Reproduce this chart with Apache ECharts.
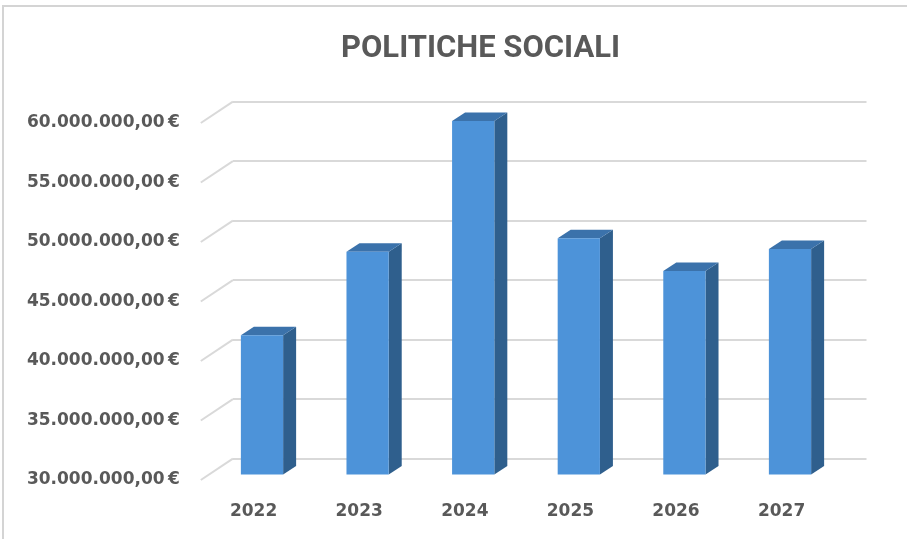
<!DOCTYPE html>
<html>
<head>
<meta charset="utf-8">
<script src="https://cdn.jsdelivr.net/npm/echarts@6/dist/echarts.min.js"></script>
<style>
  html, body { margin: 0; padding: 0; background: #ffffff; }
  #chart { width: 907px; height: 539px; }
</style>
</head>
<body>
<div id="chart"></div>
<script>
// Spesa annuale per le politiche sociali (euro)
const years = ['2022', '2023', '2024', '2025', '2026', '2027'];
const spending = [41700000, 48700000, 59700000, 49850000, 47100000, 48950000];

// Value axis range and tick step
const Y_MIN = 30000000;
const Y_MAX = 60000000;
const Y_STEP = 5000000;
const yTicks = [30000000, 35000000, 40000000, 45000000, 50000000, 55000000, 60000000];

// Layout of the pseudo-3D box: the bars stand on a middle plane,
// gridlines sit on the back wall, labels on the front edge.
const PLOT_W = 633.6;
const PLOT_H = 357;
const PLANE = { left: 209.2, top: 117.4 };
const BACK = { dx: 23.7, dy: -15.8 };
const FRONT = { dx: -8.4, dy: 5.6 };
const BAR_RATIO = 0.4;
const BAR_DEPTH = { dx: 13, dy: 8.5 };

const COLORS = {
  front: '#4d93d9',
  side: '#2f5f8d',
  top: '#3b72ab',
  grid: '#d9d9d9',
  text: '#595959'
};

function euro(v) {
  const intPart = Math.round(v).toString().replace(/\B(?=(\d{3})+(?!\d))/g, '.');
  return intPart + ',00\u202F€';
}

function gridAt(dx, dy) {
  return { left: PLANE.left + dx, top: PLANE.top + dy, width: PLOT_W, height: PLOT_H, containLabel: false };
}

function valueAxis(gridIndex, extra) {
  return Object.assign({
    type: 'value', gridIndex: gridIndex, min: Y_MIN, max: Y_MAX, interval: Y_STEP,
    axisLine: { show: false }, axisTick: { show: false },
    axisLabel: { show: false }, splitLine: { show: false }
  }, extra || {});
}

function categoryAxis(gridIndex, extra) {
  return Object.assign({
    type: 'category', gridIndex: gridIndex, data: years,
    axisLine: { show: false }, axisTick: { show: false },
    axisLabel: { show: false }, splitLine: { show: false }
  }, extra || {});
}

function renderBar(params, api) {
  const i = api.value(0);
  const v = api.value(1);
  const base = api.coord([i, Y_MIN]);
  const top = api.coord([i, v]);
  const w = api.size([1, 0])[0] * BAR_RATIO;
  const x0 = base[0] - w / 2;
  const x1 = base[0] + w / 2;
  const yB = base[1];
  const yT = top[1];
  const dx = BAR_DEPTH.dx, dy = BAR_DEPTH.dy;
  return {
    type: 'group',
    children: [
      { type: 'polygon', shape: { points: [[x1, yT], [x1 + dx, yT - dy], [x1 + dx, yB - dy], [x1, yB]] },
        style: { fill: COLORS.side } },
      { type: 'polygon', shape: { points: [[x0, yT], [x0 + dx, yT - dy], [x1 + dx, yT - dy], [x1, yT]] },
        style: { fill: COLORS.top } },
      { type: 'rect', shape: { x: x0, y: yT, width: w, height: yB - yT },
        style: { fill: COLORS.front } }
    ]
  };
}

// Slanted segments joining each back-wall gridline to the front edge
function renderWallLine(params, api) {
  const p = api.coord([0, api.value(1)]);
  const xl = p[0] - api.size([1, 0])[0] / 2;
  const ddx = BACK.dx - FRONT.dx;
  const ddy = FRONT.dy - BACK.dy;
  return {
    type: 'line',
    shape: { x1: xl, y1: p[1], x2: xl - ddx, y2: p[1] + ddy },
    style: { stroke: COLORS.grid, lineWidth: 2 }
  };
}

const chart = echarts.init(document.getElementById('chart'), null, { renderer: 'canvas' });

chart.setOption({
  backgroundColor: '#ffffff',
  animation: false,
  title: {
    text: 'POLITICHE SOCIALI',
    left: 336,
    top: 29,
    textStyle: { fontFamily: 'Roboto', fontWeight: 'bold', fontSize: 31, color: COLORS.text }
  },
  graphic: [
    { type: 'polyline', shape: { points: [[3, 545], [3, 6], [912, 6]] },
      style: { stroke: '#d4d4d4', lineWidth: 2, fill: null }, silent: true }
  ],
  grid: [
    gridAt(BACK.dx, BACK.dy),
    gridAt(0, 0),
    gridAt(FRONT.dx, FRONT.dy)
  ],
  xAxis: [
    categoryAxis(0),
    categoryAxis(1),
    categoryAxis(2, {
      axisLabel: {
        show: true, margin: 23, color: COLORS.text,
        fontFamily: 'DejaVu Sans', fontWeight: 'bold', fontSize: 17
      }
    })
  ],
  yAxis: [
    valueAxis(0, { splitLine: { show: true, lineStyle: { color: COLORS.grid, width: 2 } } }),
    valueAxis(1),
    valueAxis(2, {
      axisLabel: {
        show: true, margin: 21, color: COLORS.text,
        fontFamily: 'DejaVu Sans', fontWeight: 'bold', fontSize: 17,
        formatter: euro
      }
    })
  ],
  series: [
    {
      type: 'custom',
      xAxisIndex: 0, yAxisIndex: 0,
      renderItem: renderWallLine,
      data: yTicks.map(function (v) { return [0, v]; }),
      z: 1, silent: true
    },
    {
      type: 'custom',
      xAxisIndex: 1, yAxisIndex: 1,
      renderItem: renderBar,
      data: spending.map(function (v, i) { return [i, v]; }),
      z: 3
    }
  ]
});
</script>
</body>
</html>
